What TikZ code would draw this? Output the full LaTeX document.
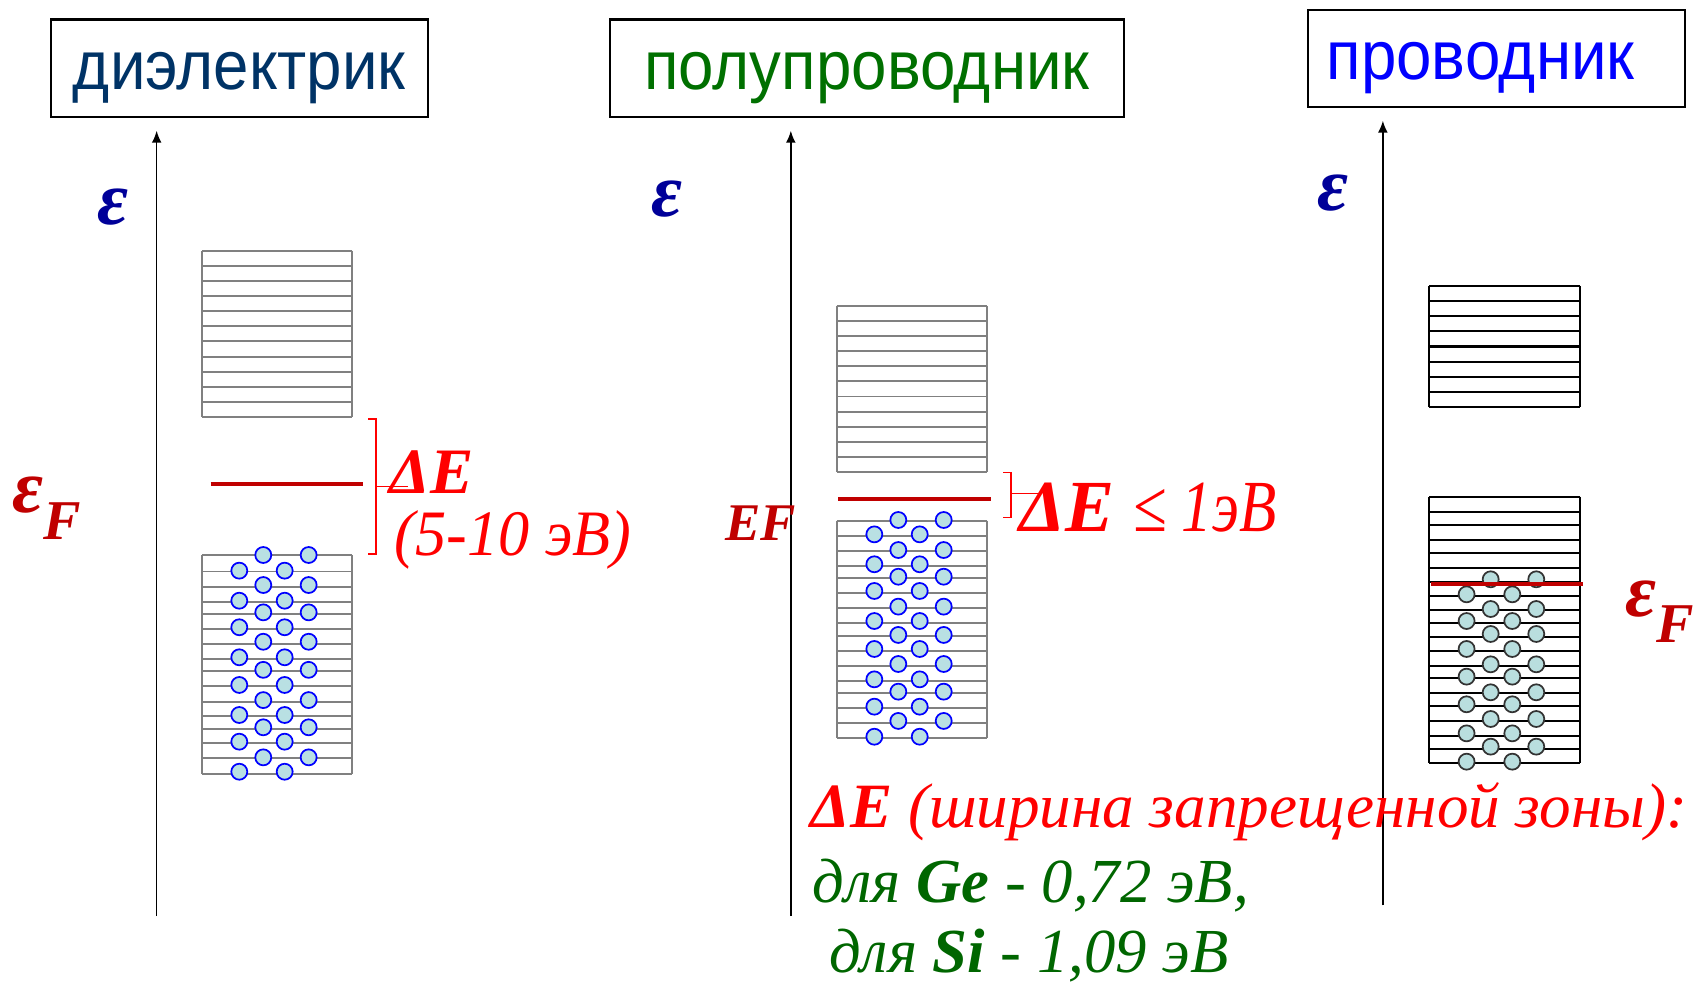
\documentclass[tikz,border=0pt]{standalone}
\usepackage{fontspec}
\setmainfont{Liberation Serif}
\newfontfamily\arialf{Liberation Sans}
\usetikzlibrary{arrows.meta}
\newcommand\setfs[1]{\fontsize{#1pt}{#1pt}\selectfont}
\definecolor{navyt}{RGB}{0,51,102}
\definecolor{greent}{RGB}{0,112,0}
\definecolor{bluet}{RGB}{0,0,255}
\definecolor{epsblue}{RGB}{0,0,153}
\definecolor{fermired}{RGB}{192,0,0}
\definecolor{brightred}{RGB}{255,0,0}
\definecolor{darkgreen}{RGB}{0,102,0}
\definecolor{bandgrey}{RGB}{128,128,128}
\definecolor{elfill}{RGB}{185,224,227}
\definecolor{elfillc}{RGB}{185,222,222}
\begin{document}
\begin{tikzpicture}[x=0.5pt,y=-0.5pt,
  titlebox/.style={draw=black, line width=1pt, inner sep=0pt, minimum height=45pt,
     text height=20pt, text depth=0pt, font=\arialf\setfs{32}},
  bandg/.style={draw=bandgrey, line width=0.9pt},
  bandk/.style={draw=black, line width=0.95pt},
  fermi/.style={draw=fermired, line width=1.9pt},
  elecb/.style={draw=bluet, fill=elfill, line width=0.8pt},
  elecd/.style={draw=black!80, fill=elfillc, line width=0.8pt},
  axisline/.style={draw=black, line width=0.7pt, -{Latex[length=5.5pt,width=4.5pt]}},
  bracket/.style={draw=brightred, line width=0.6pt},
  lbl/.style={inner sep=0pt, anchor=base west}]
\useasboundingbox (0,0) rectangle (1568,912);

% ---- titles
\node[titlebox, minimum width=174.5pt, text=navyt] (t1) at (221.5,63) {\scalebox{0.92}[1]{диэлектрик}};
\node[titlebox, minimum width=237.5pt, text=greent] (t2) at (802.5,63) {\scalebox{0.92}[1]{полупроводник}};
\node[titlebox, minimum width=174.5pt, text=bluet] (t3) at (1385.5,54) {\scalebox{0.92}[1]{проводник}\kern15pt};

% ---- axes
\coordinate (a1b) at (145,848); \coordinate (a1t) at (145,121);
\coordinate (a2b) at (732,848); \coordinate (a2t) at (732,121);
\coordinate (a3b) at (1280,838); \coordinate (a3t) at (1280,111.7);
\draw[axisline] (a1b) -- (a1t);
\draw[axisline] (a2b) -- (a2t);
\draw[axisline] (a3b) -- (a3t);

\node[lbl, text=epsblue, font=\bfseries\itshape\setfs{35}] (e1) at (90,208) {ε};
\node[lbl, text=epsblue, font=\bfseries\itshape\setfs{35}] (e2) at (603,200) {ε};
\node[lbl, text=epsblue, font=\bfseries\itshape\setfs{35}] (e3) at (1219,195) {ε};

% ---- dielectric bands
\foreach \yy in {0,...,11} \draw[bandg] (187,232+14*\yy) -- (326,232+14*\yy);
\draw[bandg] (187,232) -- (187,386) (326,232) -- (326,386);
\foreach \yy in {514,529,543,557,568,582,596,610,621,635,649.5,663,674.5,688,702,716}
  \draw[bandg] (187,\yy) -- (326,\yy);
\draw[bandg] (187,514) -- (187,716) (326,514) -- (326,716);
\foreach \xx in {243.7,285.7} \foreach \yy in {513.7,541.5,566.8,594,620,648,673.2,701}
  \draw[elecb] (\xx,\yy) circle[radius=3.7pt];
\foreach \xx in {221.5,263.5} \foreach \yy in {528.2,556,580.6,608.4,634,661.8,686.5,714.3}
  \draw[elecb] (\xx,\yy) circle[radius=3.7pt];
\coordinate (f1a) at (195,448); \coordinate (f1b) at (335.7,448);
\draw[fermi] (f1a) -- (f1b);
\draw[bracket] (341,387.8) -- (348,387.8) -- (348,512.8) -- (341,512.8);
\draw[bracket] (348,450.5) -- (378,450.5);
\node[lbl, text=brightred, font=\bfseries\itshape\setfs{30}] (dE1) at (360,456.6) {ΔE};
\node[lbl, text=brightred, font=\itshape\setfs{30}] (dE1v) at (365,514) {\scalebox{0.96}[1]{(5-10 эВ)}};
\node[lbl, text=fermired, font=\bfseries\itshape\setfs{35}] (ef1) at (11,474.5) {ε\raisebox{-12.6pt}{\setfs{26}F}};

% ---- semiconductor bands
\foreach \yy in {0,...,11} \draw[bandg] (774.4,283+14*\yy) -- (913.8,283+14*\yy);
\draw[bandg] (774.4,283) -- (774.4,437) (913.8,283) -- (913.8,437);
\foreach \yy in {482,496,510,524,535.3,549.2,563,577,588.4,602.3,616.2,630,641.2,655,669,682.8}
  \draw[bandg] (774.4,\yy) -- (913.8,\yy);
\draw[bandg] (774.4,482) -- (774.4,682.8) (913.8,482) -- (913.8,682.8);
\foreach \xx in {831.5,873.5} \foreach \yy in {481.3,509.1,533.8,561.5,587.7,614.6,640.2,667.3}
  \draw[elecb] (\xx,\yy) circle[radius=3.7pt];
\foreach \xx in {809.3,851.3} \foreach \yy in {494.6,522.3,547,574.8,600.7,628.8,654.1,681.9}
  \draw[elecb] (\xx,\yy) circle[radius=3.7pt];
\coordinate (f2a) at (775.9,461.6); \coordinate (f2b) at (917,461.6);
\draw[fermi] (f2a) -- (f2b);
\draw[bracket] (928.7,437.2) -- (935.8,437.2) -- (935.8,479.2) -- (928.7,479.2);
\draw[bracket] (935.8,456.6) -- (962,456.6);
\node[lbl, text=brightred, font=\itshape\setfs{34}] (dE2) at (943.5,492) {\textbf{ΔE} \scalebox{0.83}[1]{≤ 1эВ}};
\node[lbl, text=fermired, font=\bfseries\itshape\setfs{24.5}] (ef2) at (671,500) {EF};

% ---- conductor bands
\foreach \yy in {0,...,8} \draw[bandk] (1322.7,264.7+14*\yy) -- (1462.7,264.7+14*\yy);
\draw[bandk] (1322.7,264.7) -- (1322.7,376.7) (1462.7,264.7) -- (1462.7,376.7);
\foreach \yy in {459.7,473.6,486,499.8,512.1,525.4,539,551.6,564.6,576.4,589.9,602.3,616.2,627.8,641.7,653.5,667,681,693.3,706}
  \draw[bandk] (1322.7,\yy) -- (1462.7,\yy);
\draw[bandk] (1322.7,459.7) -- (1322.7,706) (1462.7,459.7) -- (1462.7,706);
\foreach \xx in {1379.8,1422} \foreach \yy in {536.2,563.7,586.8,614.9,640.8,665.5,691.1}
  \draw[elecd] (\xx,\yy) circle[radius=3.7pt];
\foreach \xx in {1357.5,1399.8} \foreach \yy in {550.1,574.8,600.7,626.3,651.9,678.8,705}
  \draw[elecd] (\xx,\yy) circle[radius=3.7pt];
\coordinate (f3a) at (1325,540.9); \coordinate (f3b) at (1465.5,540.9);
\draw[fermi] (f3a) -- (f3b);
\node[lbl, text=fermired, font=\bfseries\itshape\setfs{35}] (ef3) at (1504,570.8) {ε\raisebox{-12pt}{\setfs{26}F}};

% ---- bottom text
\node[lbl, text=brightred, font=\itshape\setfs{29.2}] (gap) at (750,766) {\textbf{ΔE} (ширина запрещенной зоны):};
\node[lbl, text=darkgreen, font=\itshape\setfs{29}] (ge) at (752,835) {для \textbf{Ge} - 0,72 эВ,};
\node[lbl, text=darkgreen, font=\itshape\setfs{29}] (si) at (767,900) {для \textbf{Si} - 1,09 эВ};
\end{tikzpicture}
\end{document}
